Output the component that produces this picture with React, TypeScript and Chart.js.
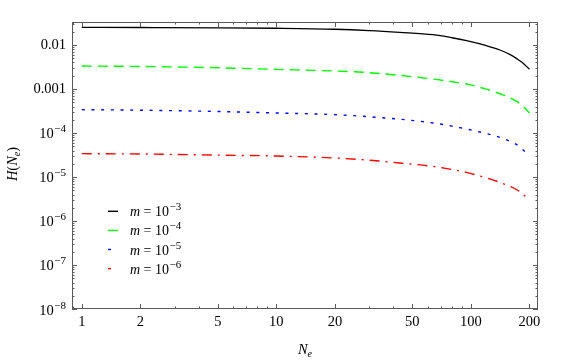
import React, { useEffect, useRef } from "react";
import { Chart, registerables } from "chart.js";

Chart.register(...registerables);

// ---- Data ----
const nValues = [1, 2, 5, 10, 20, 30, 43, 64, 80, 95, 120, 141, 160, 172, 185, 200];
const hM3 = [0.0252, 0.025, 0.0246, 0.024, 0.0228, 0.0213, 0.01945, 0.01714, 0.0146, 0.01253, 0.00966, 0.0077, 0.00596, 0.00489, 0.00389, 0.0028];
const hM4 = [3.33e-3, 3.25e-3, 3.04e-3, 2.79e-3, 2.56e-3, 2.35e-3, 2.04e-3, 1.68e-3, 1.46e-3, 1.3e-3, 9.9e-4, 7.8e-4, 6.24e-4, 5.22e-4, 4.07e-4, 2.85e-4];
const hM5 = [3.39e-4, 3.3e-4, 3.08e-4, 2.85e-4, 2.61e-4, 2.34e-4, 2.06e-4, 1.69e-4, 1.43e-4, 1.23e-4, 9.7e-5, 7.94e-5, 6.38e-5, 5.42e-5, 4.15e-5, 3.0e-5];
const hM6 = [3.39e-5, 3.33e-5, 3.14e-5, 3.0e-5, 2.7e-5, 2.41e-5, 2.08e-5, 1.74e-5, 1.48e-5, 1.27e-5, 9.55e-6, 7.53e-6, 6.03e-6, 5.13e-6, 4.12e-6, 2.94e-6];

const seriesExponents = ["3", "4", "5", "6"];
const xTickValues = [1, 2, 5, 10, 20, 50, 100, 200];
const xTickLabels = ["1", "2", "5", "10", "20", "50", "100", "200"];
const yTickExponents = [-2, -3, -4, -5, -6, -7, -8];

const COLORS = ["#000000", "#00ff00", "#0000ff", "#ff0000"];
const DASHES: number[][] = [[], [10, 6], [3, 6.7], [10, 6, 2, 6]];

const SERIF = '"Liberation Serif", "DejaVu Serif", serif';

function toPoints(ys: number[]) {
  return nValues.map((n, i) => ({ x: n, y: ys[i] }));
}

const decorPlugin = {
  id: "decor",
  afterDraw(chart: any) {
    const ctx: CanvasRenderingContext2D = chart.ctx;
    const area = chart.chartArea;
    const xs = chart.scales.x;
    const ys = chart.scales.y;
    ctx.save();

    // frame
    ctx.strokeStyle = "#5a5a5a";
    ctx.lineWidth = 1;
    ctx.setLineDash([]);
    ctx.strokeRect(area.left + 0.5, area.top + 0.5, area.right - area.left - 1, area.bottom - area.top - 1);

    // x ticks (inward, bottom and top)
    const xMin = xs.min, xMax = xs.max;
    ctx.beginPath();
    for (let d = -1; d <= 3; d++) {
      for (let k = 1; k <= 9; k++) {
        const v = k * Math.pow(10, d);
        if (v < xMin || v > xMax) continue;
        const px = Math.round(xs.getPixelForValue(v)) + 0.5;
        const major = xTickValues.includes(v);
        const len = major ? 5 : 2.5;
        ctx.moveTo(px, area.bottom);
        ctx.lineTo(px, area.bottom - len);
        ctx.moveTo(px, area.top);
        ctx.lineTo(px, area.top + len);
      }
    }
    // y ticks (inward, left and right)
    for (let d = -9; d <= -1; d++) {
      for (let k = 1; k <= 9; k++) {
        const v = k * Math.pow(10, d);
        if (v < ys.min * 0.999 || v > ys.max) continue;
        const py = Math.round(ys.getPixelForValue(v)) + 0.5;
        const len = k === 1 ? 5 : 2.5;
        ctx.moveTo(area.left, py);
        ctx.lineTo(area.left + len, py);
        ctx.moveTo(area.right, py);
        ctx.lineTo(area.right - len, py);
      }
    }
    ctx.stroke();

    // x tick labels
    ctx.fillStyle = "#000";
    ctx.font = `14.5px ${SERIF}`;
    ctx.textAlign = "center";
    ctx.textBaseline = "middle";
    xTickValues.forEach((v, i) => {
      ctx.fillText(xTickLabels[i], xs.getPixelForValue(v), 322);
    });

    // y tick labels
    const rightX = 66;
    yTickExponents.forEach((e) => {
      const py = ys.getPixelForValue(Math.pow(10, e));
      if (e === -2 || e === -3) {
        ctx.font = `14.5px ${SERIF}`;
        ctx.textAlign = "right";
        ctx.textBaseline = "middle";
        ctx.fillText(e === -2 ? "0.01" : "0.001", rightX, py);
      } else {
        ctx.textBaseline = "alphabetic";
        ctx.textAlign = "left";
        ctx.font = `11px ${SERIF}`;
        const sup = "\u2212" + String(-e);
        const supW = ctx.measureText(sup).width;
        ctx.font = `14.5px ${SERIF}`;
        const baseW = ctx.measureText("10").width;
        const x0 = rightX - supW - baseW - 0.5;
        ctx.fillText("10", x0, py + 5.5);
        ctx.font = `11px ${SERIF}`;
        ctx.fillText(sup, x0 + baseW + 0.5, py - 0.5);
      }
    });

    // x axis title N_e
    ctx.textAlign = "left";
    ctx.textBaseline = "alphabetic";
    ctx.font = `italic 14.5px ${SERIF}`;
    const nW = ctx.measureText("N").width;
    ctx.font = `italic 10px ${SERIF}`;
    const eW = ctx.measureText("e").width;
    const titleX = 305 - (nW + eW) / 2;
    ctx.font = `italic 14.5px ${SERIF}`;
    ctx.fillText("N", titleX, 354);
    ctx.font = `italic 10px ${SERIF}`;
    ctx.fillText("e", titleX + nW, 357);

    // y axis title H(N_e), rotated
    ctx.save();
    ctx.translate(17, 164);
    ctx.rotate(-Math.PI / 2);
    ctx.font = `italic 14.5px ${SERIF}`;
    const p1 = "H(N";
    const w1 = ctx.measureText(p1).width;
    ctx.font = `italic 10px ${SERIF}`;
    const w2 = ctx.measureText("e").width;
    ctx.font = `14.5px ${SERIF}`;
    const w3 = ctx.measureText(")").width;
    const total = w1 + w2 + w3;
    let cx = -total / 2;
    ctx.font = `italic 14.5px ${SERIF}`;
    ctx.fillText("H", cx, 0);
    const hW = ctx.measureText("H").width;
    ctx.font = `14.5px ${SERIF}`;
    ctx.fillText("(", cx + hW, 0);
    const pW = ctx.measureText("(").width;
    ctx.font = `italic 14.5px ${SERIF}`;
    ctx.fillText("N", cx + hW + pW, 0);
    cx += w1;
    ctx.font = `italic 10px ${SERIF}`;
    ctx.fillText("e", cx, 3);
    cx += w2;
    ctx.font = `14.5px ${SERIF}`;
    ctx.fillText(")", cx, 0);
    ctx.restore();

    // legend
    const legendY0 = 211.3;
    const legendStep = 19.1;
    seriesExponents.forEach((exp, i) => {
      const ly = legendY0 + i * legendStep;
      ctx.strokeStyle = COLORS[i];
      ctx.lineWidth = 1.4;
      ctx.setLineDash([]);
      ctx.beginPath();
      const len = i >= 2 ? 3 : 10;
      ctx.moveTo(108, ly);
      ctx.lineTo(108 + len, ly);
      ctx.stroke();

      ctx.fillStyle = "#000";
      ctx.textAlign = "left";
      ctx.textBaseline = "alphabetic";
      let tx = 130;
      ctx.font = `italic 14px ${SERIF}`;
      ctx.fillText("m", tx, ly + 5);
      tx += ctx.measureText("m").width;
      ctx.font = `14px ${SERIF}`;
      ctx.fillText(" = 10", tx, ly + 5);
      tx += ctx.measureText(" = 10").width + 0.5;
      ctx.font = `11px ${SERIF}`;
      ctx.fillText("\u2212" + exp, tx, ly - 1);
    });

    ctx.restore();
  },
};

export default function App() {
  const canvasRef = useRef<HTMLCanvasElement | null>(null);

  useEffect(() => {
    if (!canvasRef.current) return;
    const allSeries = [hM3, hM4, hM5, hM6];
    const chart = new Chart(canvasRef.current, {
      type: "line",
      data: {
        datasets: allSeries.map((ys, i) => ({
          label: "m = 10^-" + seriesExponents[i],
          data: toPoints(ys),
          borderColor: COLORS[i],
          backgroundColor: COLORS[i],
          borderWidth: i === 0 ? 1.3 : 1.4,
          borderDash: DASHES[i],
          pointRadius: 0,
          fill: false,
          cubicInterpolationMode: "monotone" as const,
        })),
      },
      options: {
        responsive: false,
        animation: false,
        devicePixelRatio: 1,
        layout: { padding: { left: 72, top: 22, right: 46, bottom: 53 } },
        plugins: {
          legend: { display: false },
          tooltip: { enabled: false },
        },
        scales: {
          x: {
            type: "logarithmic",
            display: false,
            min: 0.891,
            max: 221.2,
          },
          y: {
            type: "logarithmic",
            display: false,
            min: 1e-8,
            max: 0.0333,
          },
        },
      },
      plugins: [decorPlugin],
    });
    return () => chart.destroy();
  }, []);

  return (
    <div style={{ position: "fixed", left: 0, top: 0, width: 584, height: 362, background: "#fff" }}>
      <canvas ref={canvasRef} width={584} height={362} style={{ width: 584, height: 362, display: "block" }} />
    </div>
  );
}
